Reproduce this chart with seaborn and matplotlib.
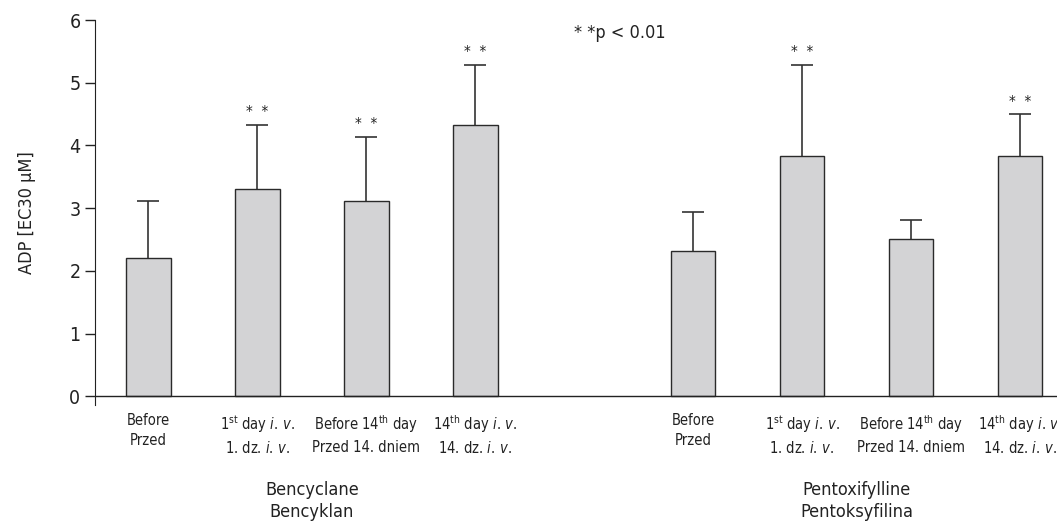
import pandas as pd
import numpy as np
import matplotlib
matplotlib.use("Agg")
import matplotlib.pyplot as plt
import seaborn as sns

# data
groups = ["Bencyclane\nBencyklan", "Pentoxifylline\nPentoksyfilina"]
conditions = [
    "Before\nPrzed",
    "1$^{\\rm st}$ day $\\it{i.\\,v.}$\n1. dz. $\\it{i.\\,v.}$",
    "Before 14$^{\\rm th}$ day\nPrzed 14. dniem",
    "14$^{\\rm th}$ day $\\it{i.\\,v.}$\n14. dz. $\\it{i.\\,v.}$",
]
bencyclane_mean = [2.20, 3.30, 3.11, 4.32]
bencyclane_sd = [0.91, 1.03, 1.03, 0.97]
pentox_mean = [2.32, 3.83, 2.50, 3.83]
pentox_sd = [0.61, 1.46, 0.31, 0.67]
bencyclane_sig = [False, True, True, True]
pentox_sig = [False, True, False, True]

sns.set_style("ticks")
plt.rcParams["font.family"] = ["DejaVu Sans"]
plt.rcParams["font.stretch"] = "condensed"
plt.rcParams["mathtext.fontset"] = "custom"
plt.rcParams["mathtext.rm"] = "DejaVu Sans:stretch=condensed"
plt.rcParams["mathtext.it"] = "DejaVu Sans:italic:stretch=condensed"

rows = []
for g, (means, sds, sig) in enumerate([(bencyclane_mean, bencyclane_sd, bencyclane_sig),
                                        (pentox_mean, pentox_sd, pentox_sig)]):
    for i, c in enumerate(conditions):
        rows.append({"group": groups[g], "cond": c, "pos": g * 5 + i,
                     "mean": means[i], "sd": sds[i], "sig": sig[i]})
df = pd.DataFrame(rows)

fig = plt.figure(figsize=(10.57, 5.25), dpi=100)
ax = fig.add_axes([0.0899, 0.2286, 0.9101, 0.7333])

sns.barplot(data=df, x="pos", y="mean", native_scale=True, width=0.41,
            color="#d3d3d5", edgecolor="#2a2a2a", linewidth=1.0,
            saturation=1, errorbar=None, ax=ax, zorder=2)

# lower half of each error bar sits hidden behind the bar
ax.errorbar(df["pos"], df["mean"], yerr=df["sd"], fmt="none", ecolor="#333333",
            elinewidth=1.2, capsize=8, capthick=1.2, zorder=1)

for _, r in df.iterrows():
    if r["sig"]:
        ax.text(r["pos"], r["mean"] + r["sd"] + 0.07, "*  *", ha="center",
                va="bottom", fontsize=11, color="#222222")

ax.text(4.33, 5.79, "* *p < 0.01", ha="center", va="center", fontsize=13, color="#222222")

ax.axhline(0, color="#222222", linewidth=1.0)
ax.set_xlim(-0.49, 8.34)
ax.set_ylim(-0.14, 6)
ax.set_yticks(range(7))
ax.set_xticks(df["pos"])
ax.set_xticklabels(df["cond"], fontsize=10.5, color="#222222", linespacing=1.4)
ax.tick_params(axis="x", length=0, pad=6)
ax.tick_params(axis="y", labelsize=14, length=7, width=1.0, colors="#222222")
ax.set_xlabel("")
ax.set_ylabel("ADP [EC30 μM]", fontsize=13, color="#222222", labelpad=24)
sns.despine(ax=ax, top=True, right=True, bottom=True)
ax.spines["left"].set_color("#222222")

for g, name in enumerate(groups):
    ax.text(g * 5 + 1.5, -1.36, name, ha="center", va="top", fontsize=13,
            color="#222222", linespacing=1.25)

fig.savefig("out.png", dpi=100)
